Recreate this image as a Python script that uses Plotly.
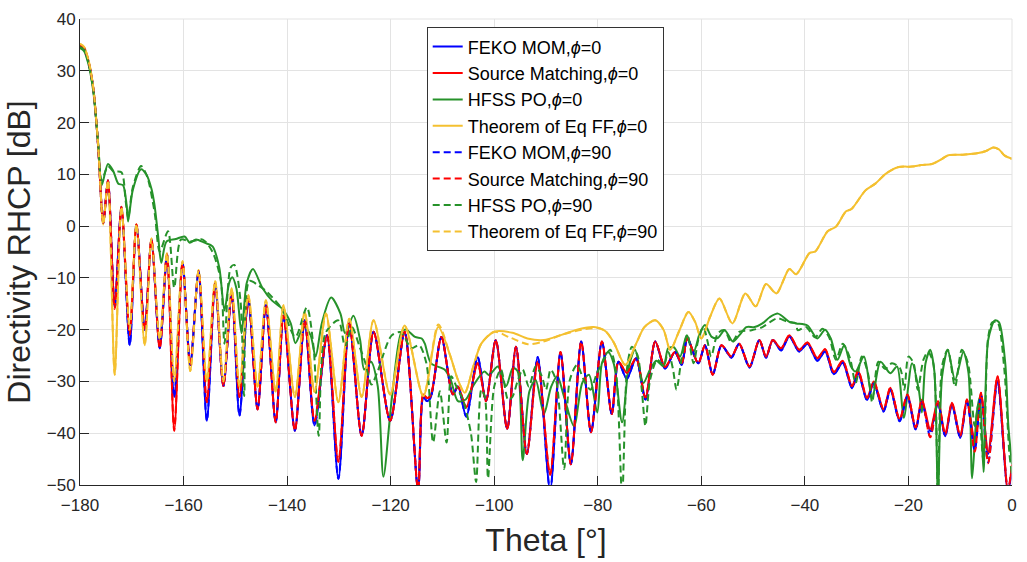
import plotly.graph_objects as go

# ---------------- data (theta [deg], directivity RHCP [dB]) ----------------
feko_phi0 = [(-180, 34.9), (-179.2, 34.3), (-178.3, 31.5), (-177.4, 26.3), (-176.5, 15.5), (-175.5, 0.6),
    (-174.6, 8.8), (-173.3, -15.7), (-172.0, 3.7), (-170.4, -23), (-169.1, 0.3), (-167.5, -20),
    (-166.2, -2.6), (-164.6, -23.6), (-163.2, -5.5), (-161.8, -33), (-160.2, -7.1), (-158.7, -26.8),
    (-157.1, -8.7), (-155.5, -37.6), (-153.9, -11.2), (-152.3, -30.9), (-150.7, -13.1), (-149.2, -36.6),
    (-147.5, -14.1), (-145.7, -35.4), (-144.1, -15.3), (-142.2, -37.9), (-140.7, -17.3), (-138.5, -39.5),
    (-136.6, -18.2), (-134.7, -38.5), (-132.3, -21.1), (-130.1, -48.8), (-128.0, -18.8), (-125.6, -40.5),
    (-123.3, -20.4), (-120.1, -37.6), (-117.3, -20.4), (-114.7, -51), (-113.7, -33), (-113.0, -33.8),
    (-112.3, -33.2), (-110.2, -21.4), (-108.0, -32.5), (-107.0, -31), (-105.4, -36.8), (-103.2, -25.3),
    (-101.6, -33.8), (-99.7, -22), (-97.5, -39.2), (-95.8, -23.3), (-93.7, -44), (-91.6, -25.3),
    (-89.2, -51), (-87.2, -24.3), (-85.2, -46), (-83.2, -22.3), (-81.3, -39.8), (-79.2, -22.3),
    (-77.3, -36.3), (-76.0, -26.2), (-74.4, -29.5), (-72.6, -25.5), (-70.8, -33.5), (-68.9, -22.3),
    (-67.0, -27.5), (-65.1, -24.3), (-63.8, -26.8), (-62.7, -21.7), (-60.6, -26.5), (-59.3, -23),
    (-57.8, -28.7), (-56.1, -23), (-54.2, -25.4), (-52.7, -22.7), (-50.7, -27.3), (-48.8, -22),
    (-47.5, -25.4), (-46.2, -22), (-44.6, -24), (-43.0, -21.3), (-41.1, -24.2), (-39.5, -22.7),
    (-37.6, -26), (-36.1, -24.2), (-34.4, -28.6), (-32.7, -26.4), (-30.9, -31.3), (-29.7, -28.4),
    (-28.0, -33.6), (-26.7, -30.4), (-24.8, -35.8), (-23.5, -31.6), (-21.7, -37.7), (-20.2, -32.9),
    (-18.6, -39.3), (-17.4, -33.9), (-15.8, -39.6), (-14.3, -34.2), (-12.9, -40.6), (-11.6, -34.5),
    (-10.0, -40.9), (-8.7, -33.9), (-7.2, -42.1), (-6.0, -32.6), (-4.6, -44), (-2.8, -30),
    (-0.8, -51), (0, -47)]

sm_phi0 = [(-180, 34.9), (-179.2, 34.3), (-178.3, 31.5), (-177.4, 26.3), (-176.5, 15.5), (-175.5, 0.6),
    (-174.6, 8.8), (-173.3, -15.7), (-172.0, 3.7), (-170.4, -21), (-169.1, 0.3), (-167.5, -20),
    (-166.2, -2.6), (-164.6, -23.6), (-163.2, -5.5), (-161.8, -39.5), (-160.2, -7.1), (-158.7, -26.8),
    (-157.1, -8.7), (-155.5, -34), (-153.9, -11.2), (-152.3, -30.9), (-150.7, -13.1), (-149.2, -33),
    (-147.5, -14.1), (-145.7, -35.4), (-144.1, -15.3), (-142.2, -37.9), (-140.7, -17.3), (-138.5, -39.5),
    (-136.6, -18.2), (-134.7, -37.6), (-132.3, -21.1), (-130.1, -45.5), (-128.0, -18.8), (-125.6, -40.5),
    (-123.3, -20.4), (-120.1, -37.6), (-117.3, -20.4), (-114.7, -51), (-113.7, -32.5), (-113.0, -33.2),
    (-112.3, -32.8), (-110.2, -21.4), (-108.0, -32.5), (-107.0, -31), (-105.4, -35), (-103.2, -26.5),
    (-101.6, -33.8), (-99.7, -22), (-97.5, -39.2), (-95.8, -23.3), (-93.7, -44), (-91.6, -26.2),
    (-89.2, -48), (-87.2, -24.3), (-85.2, -46), (-83.2, -22.3), (-81.3, -39.8), (-79.2, -22.3),
    (-77.3, -36.3), (-76.0, -26.2), (-74.4, -28.3), (-72.6, -25.5), (-70.8, -33.1), (-68.9, -22.3),
    (-67.0, -27.2), (-65.1, -24.3), (-63.8, -26.5), (-62.7, -21.7), (-60.6, -26.5), (-59.3, -23),
    (-57.8, -28.7), (-56.1, -23), (-54.2, -25.2), (-52.7, -22.7), (-50.7, -27.1), (-48.8, -22),
    (-47.5, -25.2), (-46.2, -22), (-44.6, -23.6), (-43.0, -21.1), (-41.1, -23.9), (-39.5, -22.5),
    (-37.6, -25.5), (-36.1, -23.8), (-34.4, -28.2), (-32.7, -26), (-30.9, -30.9), (-29.7, -28),
    (-28.0, -33.2), (-26.7, -30), (-24.8, -35.4), (-23.5, -31.2), (-21.7, -37.3), (-20.2, -32.5),
    (-18.6, -38.9), (-17.4, -33.5), (-15.8, -39.2), (-14.3, -33.8), (-12.9, -40.2), (-11.6, -34.1),
    (-10.0, -40.5), (-8.7, -33.5), (-7.2, -41.7), (-6.0, -32.2), (-4.6, -43.6), (-2.8, -29),
    (-0.8, -51), (0, -46)]

hfss_phi0 = [(-180, 34.4), (-179.2, 33.8), (-178.3, 31), (-177.4, 25.8), (-176.5, 16), (-175.8, 7.9),
    (-174.6, 12.0), (-173.6, 10.7), (-172.6, 8.2), (-171.7, 7.9), (-171.0, 4.1), (-170.7, 0.9),
    (-169.8, 7), (-168.2, 11.0), (-167.2, 10), (-166.2, 7.2), (-165.6, 4), (-164.9, -2),
    (-164.3, -7.1), (-163.3, -3), (-161.5, -2.5), (-159.8, -2.0), (-158.8, -3.2), (-157.6, -2.6),
    (-156.0, -3.2), (-154.4, -3.9), (-153.1, -8), (-152.1, -16.3), (-151.2, -11), (-150.6, -9.9),
    (-149.8, -12), (-148.8, -20.7), (-147.8, -11), (-146.6, -8.3), (-144.8, -11.9), (-142.9, -14.4),
    (-140.9, -16), (-139.3, -18.8), (-138.4, -22.6), (-136.8, -19.5), (-135.5, -21), (-134.5, -25.2),
    (-133.3, -18.8), (-131.5, -13.8), (-129.7, -16.9), (-128.8, -20.7), (-127.2, -17.3), (-125.9, -22),
    (-125.1, -27.7), (-123.8, -26.2), (-122.5, -30.9), (-121.4, -48.4), (-119.8, -33.5), (-117.9, -20.4),
    (-117.0, -20), (-115.3, -21.4), (-114.0, -21.7), (-113.4, -22.7), (-112.2, -26.5), (-109.6, -27.7),
    (-108.4, -29.7), (-107.0, -33.8), (-105.5, -33.5), (-104.1, -30.9), (-101.9, -28.1), (-101.0, -28.8),
    (-99.3, -27.1), (-97.7, -30.9), (-96.4, -27.4), (-95.5, -28), (-94.5, -45.2), (-93.2, -31.9),
    (-92.0, -29.7), (-90.4, -36.3), (-89.0, -31), (-87.8, -29), (-86.7, -32.3), (-84.6, -38.6),
    (-83.0, -30.3), (-81.7, -28.7), (-80.1, -36), (-79.2, -26.5), (-78.0, -24.3), (-76.9, -26.6),
    (-75.3, -37.9), (-74.0, -27.1), (-72.8, -23.9), (-71.2, -30.3), (-69.9, -27.7), (-68.7, -26),
    (-67.3, -27.1), (-66.4, -23.6), (-65.3, -23.4), (-64.1, -25.2), (-62.8, -21.1), (-61.5, -24.3),
    (-60.3, -20.7), (-59.3, -19.1), (-58.0, -21.4), (-56.8, -21.6), (-55.5, -20.1), (-53.9, -22.3),
    (-52.6, -21), (-51.3, -19.5), (-49.7, -19.5), (-48.2, -18.8), (-46.8, -17.6), (-45.2, -16.9),
    (-43.0, -18.5), (-41.7, -18.8), (-39.5, -19.2), (-37.6, -21.7), (-36.1, -20), (-35.0, -21.7),
    (-33.7, -25.8), (-32.4, -23), (-31.1, -27.1), (-30.2, -28.1), (-28.6, -25.2), (-27.0, -33.2),
    (-25.4, -26.2), (-23.5, -28.4), (-22.2, -27.1), (-20.9, -37), (-19.3, -26.5), (-18.0, -31.6),
    (-17.4, -36), (-16.7, -26.5), (-15.8, -23.9), (-15.0, -28), (-14.3, -52), (-13.5, -29),
    (-12.4, -23.9), (-11.0, -29.7), (-9.4, -24.3), (-8.4, -28.4), (-7.7, -48.7), (-6.8, -36),
    (-6.2, -33), (-5.5, -47.5), (-4.6, -22), (-3.3, -18.2), (-2.5, -18.6), (-1.3, -26.5),
    (-0.7, -38.6), (0, -46)]

theq_phi0 = [(-180, 35.2), (-179.2, 34.6), (-178.3, 31.8), (-177.4, 26.5), (-176.5, 15.7), (-175.5, 0.3),
    (-174.6, 8.9), (-173.3, -28.7), (-172.0, 3.8), (-170.4, -20), (-169.1, 0.4), (-167.5, -23),
    (-166.2, -2.4), (-164.6, -22), (-163.2, -5.2), (-161.8, -30), (-160.2, -6.8), (-158.7, -28),
    (-157.1, -8.5), (-155.5, -30), (-153.9, -10.6), (-152.3, -30), (-150.7, -12.0), (-149.2, -31),
    (-147.5, -13.3), (-145.7, -31), (-144.1, -14.3), (-142.2, -32), (-140.7, -15.3), (-138.5, -33),
    (-136.6, -16.6), (-134.7, -32), (-132.5, -16.9), (-130.1, -34), (-128.0, -17.9), (-125.6, -33),
    (-123.3, -18.2), (-120.1, -32.5), (-117.3, -19.2), (-113.7, -32.8), (-110.8, -19.5), (-108.5, -25),
    (-107.0, -29.7), (-105.7, -32.2), (-104.0, -27), (-102.5, -22.7), (-100.0, -20.4), (-96.5, -20.6),
    (-93.6, -21.7), (-90.4, -22), (-87.0, -21), (-83.3, -19.8), (-80.8, -19.5), (-78.5, -20.3),
    (-76.9, -22.5), (-74.7, -26.8), (-72.5, -22.5), (-71.0, -19.5), (-68.9, -18.2), (-67.3, -20),
    (-66.0, -23.9), (-64.3, -20.3), (-62.5, -16.6), (-61.2, -18.5), (-60.0, -21.7), (-58.3, -17.5),
    (-56.5, -14.0), (-54.0, -18.8), (-51.5, -13.0), (-49.5, -15.5), (-47.5, -11.2), (-45.5, -13),
    (-43.0, -8.3), (-41.7, -9.3), (-39.1, -5.2), (-38.0, -4.9), (-35.6, -1), (-34.0, -0.1),
    (-32.1, 2.8), (-31.0, 3.3), (-28.3, 6.9), (-26.4, 8.2), (-24.4, 10.1), (-21.9, 11.4),
    (-19.3, 11.5), (-17.5, 11.8), (-15.5, 12.0), (-13.5, 13.0), (-12.3, 13.7), (-9.5, 13.8),
    (-6.5, 14.1), (-5.0, 14.5), (-3.6, 15.2), (-2.5, 14.8), (-1.4, 13.6), (0, 13.0)]

feko_phi90 = [(-180, 34.9), (-179.2, 34.3), (-178.3, 31.5), (-177.4, 26.3), (-176.5, 15.5), (-175.5, 0.6),
    (-174.6, 8.8), (-173.3, -15.7), (-172.0, 3.7), (-170.4, -23), (-169.1, 0.3), (-167.5, -20),
    (-166.2, -2.6), (-164.6, -23.6), (-163.2, -5.5), (-161.8, -33), (-160.2, -7.1), (-158.7, -26.8),
    (-157.1, -8.7), (-155.5, -37.6), (-153.9, -11.2), (-152.3, -30.9), (-150.7, -13.1), (-149.2, -36.6),
    (-147.5, -14.1), (-145.7, -35.4), (-144.1, -15.3), (-142.2, -37.9), (-140.7, -17.3), (-138.5, -39.5),
    (-136.6, -18.2), (-134.7, -38.5), (-132.3, -21.1), (-130.1, -48.8), (-128.0, -18.8), (-125.6, -40.5),
    (-123.3, -20.4), (-120.1, -37.6), (-117.3, -20.4), (-114.7, -51), (-113.7, -33), (-113.0, -33.8),
    (-112.3, -33.2), (-110.2, -21.4), (-108.0, -32.5), (-107.0, -31), (-105.4, -36.8), (-103.2, -25.3),
    (-101.6, -33.8), (-99.7, -22), (-97.5, -39.2), (-95.8, -23.3), (-93.7, -44), (-91.6, -25.3),
    (-89.2, -51), (-87.2, -24.3), (-85.2, -46), (-83.2, -22.3), (-81.3, -39.8), (-79.2, -22.3),
    (-77.3, -36.3), (-76.0, -26.2), (-74.4, -29.5), (-72.6, -25.5), (-70.8, -33.5), (-68.9, -22.3),
    (-67.0, -27.5), (-65.1, -24.3), (-63.8, -26.8), (-62.7, -21.7), (-60.6, -26.5), (-59.3, -23),
    (-57.8, -28.7), (-56.1, -23), (-54.2, -25.4), (-52.7, -22.7), (-50.7, -27.3), (-48.8, -22),
    (-47.5, -25.4), (-46.2, -22), (-44.6, -24), (-43.0, -21.3), (-41.1, -24.2), (-39.5, -22.7),
    (-37.6, -26), (-36.1, -24.2), (-34.4, -28.6), (-32.7, -26.4), (-30.9, -31.3), (-29.7, -28.4),
    (-28.0, -33.6), (-26.7, -30.4), (-24.8, -35.8), (-23.5, -31.6), (-21.7, -37.7), (-20.2, -32.9),
    (-18.6, -39.3), (-17.4, -33.9), (-15.8, -40.6), (-14.3, -34.2), (-12.9, -40.6), (-11.6, -34.5),
    (-10.0, -40.9), (-8.7, -33.9), (-7.2, -43.4), (-6.0, -32.6), (-4.6, -45.6), (-2.8, -30),
    (-0.8, -51), (0, -47)]

sm_phi90 = [(-180, 34.9), (-179.2, 34.3), (-178.3, 31.5), (-177.4, 26.3), (-176.5, 15.5), (-175.5, 0.6),
    (-174.6, 8.8), (-173.3, -16), (-172.0, 3.7), (-170.4, -21), (-169.1, 0.3), (-167.5, -20),
    (-166.2, -2.6), (-164.6, -23.6), (-163.2, -5.5), (-161.8, -39.5), (-160.2, -7.1), (-158.7, -26.8),
    (-157.1, -8.7), (-155.5, -34), (-153.9, -11.2), (-152.3, -30.9), (-150.7, -13.1), (-149.2, -33),
    (-147.5, -14.1), (-145.7, -35.4), (-144.1, -15.3), (-142.2, -37.9), (-140.7, -17.3), (-138.5, -39.5),
    (-136.6, -18.2), (-134.7, -37.6), (-132.3, -21.1), (-130.1, -45.5), (-128.0, -18.8), (-125.6, -40.5),
    (-123.3, -20.4), (-120.1, -37.6), (-117.3, -20.4), (-114.7, -51), (-113.7, -32.5), (-113.0, -33.2),
    (-112.3, -32.8), (-110.2, -21.4), (-108.0, -32.5), (-107.0, -31), (-105.4, -35), (-103.2, -26.5),
    (-101.6, -33.8), (-99.7, -22), (-97.5, -39.2), (-95.8, -23.3), (-93.7, -44), (-91.6, -26.2),
    (-89.2, -48), (-87.2, -24.3), (-85.2, -46), (-83.2, -22.3), (-81.3, -39.8), (-79.2, -22.3),
    (-77.3, -36.3), (-76.0, -26.2), (-74.4, -28.3), (-72.6, -25.5), (-70.8, -33.1), (-68.9, -22.3),
    (-67.0, -27.2), (-65.1, -24.3), (-63.8, -26.5), (-62.7, -21.7), (-60.6, -26.5), (-59.3, -23),
    (-57.8, -28.7), (-56.1, -23), (-54.2, -25.2), (-52.7, -22.7), (-50.7, -27.1), (-48.8, -22),
    (-47.5, -25.2), (-46.2, -22), (-44.6, -23.6), (-43.0, -21.1), (-41.1, -23.9), (-39.5, -22.5),
    (-37.6, -25.5), (-36.1, -23.8), (-34.4, -28.2), (-32.7, -26), (-30.9, -30.9), (-29.7, -28),
    (-28.0, -33.2), (-26.7, -30), (-24.8, -35.4), (-23.5, -31.2), (-21.7, -37.3), (-20.2, -32.5),
    (-18.6, -38.9), (-17.4, -33.5), (-15.8, -40.8), (-14.3, -33.8), (-12.9, -40.2), (-11.6, -34.1),
    (-10.0, -40.5), (-8.7, -33.5), (-7.2, -43.6), (-6.0, -32.2), (-4.6, -45.8), (-2.8, -29),
    (-0.8, -51), (0, -46)]

hfss_phi90 = [(-180, 34.6), (-179.2, 34), (-178.3, 31.2), (-177.4, 26), (-176.5, 16), (-175.8, 8.8),
    (-174.6, 11.6), (-173.6, 10.6), (-172.0, 10.4), (-171.2, 5), (-170.7, 1.6), (-169.8, 7.5),
    (-168.2, 11.6), (-167.0, 9.5), (-166.0, 5), (-165.5, 2), (-164.6, -4.9), (-163.0, -1.0),
    (-161.8, -11.9), (-160.5, -2.6), (-158.8, -3), (-156.3, -2.6), (-154.4, -5), (-152.8, -10.6),
    (-152.1, -22.7), (-150.9, -8), (-150.2, -7.5), (-149.0, -14.4), (-148.3, -32.8), (-147.3, -10.6),
    (-145.5, -11.5), (-144.1, -12.5), (-141.0, -16), (-138.4, -21.4), (-136.2, -15.7), (-134.9, -23.3),
    (-133.9, -40.5), (-132.6, -20.7), (-130.1, -18.2), (-128.8, -23.3), (-127.5, -19.5), (-126.0, -23.3),
    (-124.9, -26.4), (-123.7, -30.6), (-122.5, -28), (-119.8, -21.1), (-118.0, -20.5), (-116.0, -23.6),
    (-114.5, -23), (-113.1, -26.5), (-111.8, -41.8), (-110.5, -31.9), (-109.2, -41.8), (-108.3, -29),
    (-107.3, -31), (-106.0, -33.7), (-104.5, -40), (-103.5, -49.4), (-102.5, -31.6), (-101.8, -33),
    (-101.2, -48.7), (-100.0, -31.0), (-98.7, -27.7), (-97.3, -33.6), (-96.5, -33), (-95.5, -30),
    (-94.5, -27.7), (-93.3, -31), (-92.0, -27.1), (-90.8, -29), (-90.0, -31.6), (-89.1, -27.7),
    (-88.0, -30), (-86.5, -46.9), (-85.4, -29.7), (-84.0, -26.8), (-82.8, -29.5), (-81.4, -31.6),
    (-80.2, -28.5), (-78.8, -25.8), (-77.6, -23.9), (-76.5, -28), (-75.3, -52), (-74.3, -27),
    (-73.4, -23.3), (-72.3, -25), (-71.5, -31.6), (-70.8, -38.6), (-69.9, -29.7), (-68.5, -25.8),
    (-67.3, -27), (-66.4, -24.3), (-65.5, -27.5), (-64.8, -31.6), (-63.8, -25.5), (-62.7, -21),
    (-61.5, -26.5), (-60.6, -22), (-59.6, -19.5), (-58.8, -22.3), (-58.1, -25.2), (-56.8, -20.7),
    (-55.5, -20.1), (-54.2, -22.5), (-52.6, -20.4), (-50.3, -20.1), (-48.2, -19.5), (-46.2, -18.2),
    (-45.2, -17.8), (-43.3, -18.5), (-41.7, -18.8), (-41.4, -20.1), (-39.8, -19.5), (-38.0, -21.5),
    (-36.6, -19.8), (-35.3, -21.5), (-34.0, -25.8), (-32.7, -22.7), (-31.3, -25.5), (-30.2, -30.3),
    (-29.0, -25.2), (-27.8, -28.5), (-27.0, -34), (-25.8, -26.2), (-24.5, -27.6), (-23.2, -26.5),
    (-21.6, -27.5), (-20.8, -31.6), (-20.0, -25.2), (-19.0, -26.5), (-18.2, -31.6), (-17.1, -25.8),
    (-16.2, -24.3), (-15.2, -26.5), (-14.3, -52), (-13.5, -27), (-12.4, -23.9), (-11.0, -31),
    (-9.7, -23.9), (-8.5, -26.5), (-7.2, -38.6), (-6.5, -34.5), (-5.5, -45.5), (-4.6, -21.5),
    (-3.8, -18.6), (-2.8, -18.6), (-1.5, -27.5), (-0.5, -44), (0, -48)]

theq_phi90 = [(-180, 35.2), (-179.2, 34.6), (-178.3, 31.8), (-177.4, 26.5), (-176.5, 15.7), (-175.5, 0.3),
    (-174.6, 8.9), (-173.3, -28.7), (-172.0, 3.8), (-170.4, -20), (-169.1, 0.4), (-167.5, -23),
    (-166.2, -2.4), (-164.6, -22), (-163.2, -5.2), (-161.8, -30), (-160.2, -6.8), (-158.7, -28),
    (-157.1, -8.5), (-155.5, -30), (-153.9, -10.6), (-152.3, -30), (-150.7, -12.0), (-149.2, -31),
    (-147.5, -13.3), (-145.7, -31), (-144.1, -14.3), (-142.2, -32), (-140.7, -15.3), (-138.5, -33),
    (-136.6, -16.6), (-134.7, -32), (-132.5, -16.9), (-130.1, -34), (-128.0, -17.9), (-125.6, -33),
    (-123.3, -18.2), (-120.1, -32.5), (-117.3, -19.2), (-113.7, -32.8), (-110.8, -19.0), (-108.5, -25),
    (-107.0, -29.7), (-105.7, -32.2), (-104.0, -27), (-102.5, -22.7), (-100.0, -20.4), (-97.0, -21.5),
    (-93.5, -22.8), (-90.5, -22.3), (-87.0, -21), (-83.0, -20), (-80.0, -19.7), (-78.5, -20.3),
    (-76.9, -22.5), (-74.7, -26.8), (-72.5, -22.5), (-71.0, -19.5), (-68.9, -18.2), (-67.3, -20),
    (-66.0, -23.9), (-64.3, -20.3), (-62.5, -16.6), (-61.2, -18.5), (-60.0, -21.7), (-58.3, -17.5),
    (-56.5, -14.0), (-54.0, -18.8), (-51.5, -13.0), (-49.5, -15.5), (-47.5, -11.2), (-45.5, -13),
    (-43.0, -8.3), (-41.7, -9.3), (-39.1, -5.2), (-38.0, -4.9), (-35.6, -1), (-34.0, -0.1),
    (-32.1, 2.8), (-31.0, 3.3), (-28.3, 6.9), (-26.4, 8.2), (-24.4, 10.1), (-21.9, 11.4),
    (-19.3, 11.5), (-17.5, 11.8), (-15.5, 12.0), (-13.5, 13.0), (-12.3, 13.7), (-9.5, 13.8),
    (-6.5, 14.1), (-5.0, 14.5), (-3.6, 15.2), (-2.5, 14.8), (-1.4, 13.6), (0, 13.0)]

series_names = ["FEKO MOM,<i>ϕ</i>=0", "Source Matching,<i>ϕ</i>=0", "HFSS PO,<i>ϕ</i>=0",
                "Theorem of Eq FF,<i>ϕ</i>=0", "FEKO MOM,<i>ϕ</i>=90", "Source Matching,<i>ϕ</i>=90",
                "HFSS PO,<i>ϕ</i>=90", "Theorem of Eq FF,<i>ϕ</i>=90"]
series_data = [feko_phi0, sm_phi0, hfss_phi0, theq_phi0, feko_phi90, sm_phi90, hfss_phi90, theq_phi90]
series_colors = ["#0000FF", "#FF0000", "#26922A", "#F4C030"] * 2
series_dash = ["solid"] * 4 + ["7px,4px"] * 4

x_ticks = [-180, -160, -140, -120, -100, -80, -60, -40, -20, 0]
y_ticks = [40, 30, 20, 10, 0, -10, -20, -30, -40, -50]

FONT = "Liberation Sans, Arial, Helvetica, sans-serif"
AX = "#262626"
GRID = "#E3E3E3"

fig = go.Figure()
for name, data, col, dash in zip(series_names, series_data, series_colors, series_dash):
    fig.add_trace(go.Scatter(
        x=[p[0] for p in data], y=[p[1] for p in data], name=name, mode="lines",
        line=dict(color=col, width=2, dash=dash, shape="spline", smoothing=0.8),
    ))

fig.update_layout(
    width=1027, height=562,
    margin=dict(l=80, r=10, t=15, b=75),
    paper_bgcolor="white", plot_bgcolor="white",
    font=dict(family=FONT, color=AX, size=17),
    showlegend=True,
    legend=dict(x=0.372, y=0.982, xanchor="left", yanchor="top",
                bgcolor="white", bordercolor="#333333", borderwidth=1,
                font=dict(family=FONT, size=18, color="black"),
                tracegroupgap=0),
    xaxis=dict(range=[-180, 0], tickvals=x_ticks, ticks="inside", ticklen=9, tickcolor=AX,
               showline=True, linecolor=AX, linewidth=1, showgrid=True, gridcolor=GRID,
               gridwidth=1, zeroline=False, tickfont=dict(size=17, color=AX),
               ticklabelstandoff=5,
               title=dict(text="Theta [°]", font=dict(size=32, color=AX), standoff=14)),
    yaxis=dict(range=[-50, 40], tickvals=y_ticks, ticks="inside", ticklen=9, tickcolor=AX,
               showline=True, linecolor=AX, linewidth=1, showgrid=True, gridcolor=GRID,
               gridwidth=1, zeroline=False, tickfont=dict(size=17, color=AX),
               title=dict(text="Directivity RHCP [dB]", font=dict(size=32, color=AX), standoff=6)),
)
fig.add_shape(type="line", xref="paper", yref="paper", x0=0, x1=1, y0=1, y1=1,
              line=dict(color=GRID, width=1))
fig.add_shape(type="line", xref="paper", yref="paper", x0=1, x1=1, y0=0, y1=1,
              line=dict(color=GRID, width=1))

fig.write_html("out.html")
